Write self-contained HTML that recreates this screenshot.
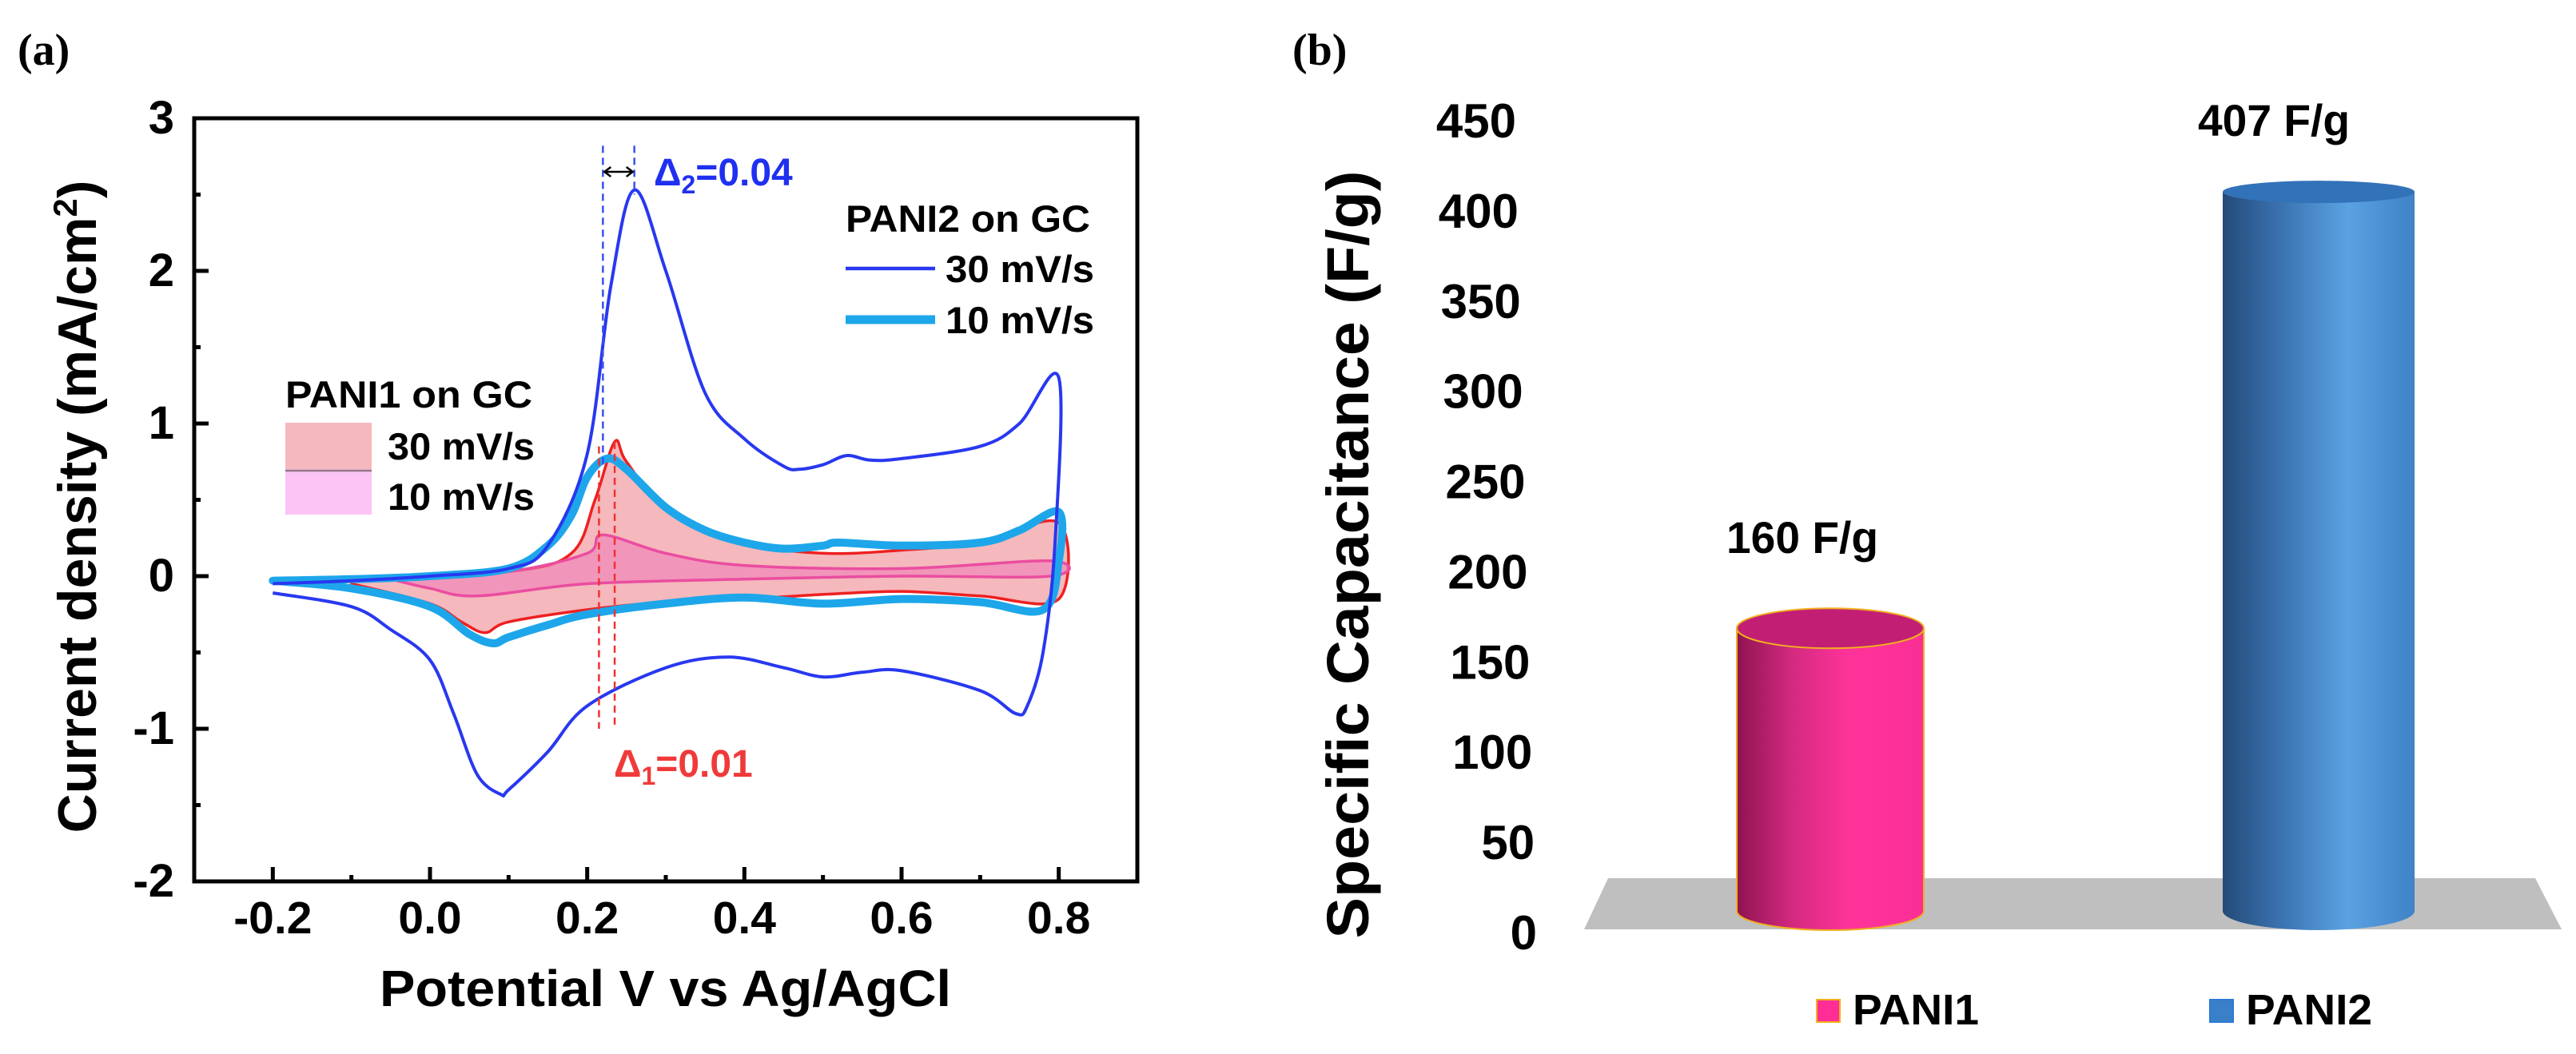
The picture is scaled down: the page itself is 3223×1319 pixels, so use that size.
<!DOCTYPE html>
<html><head><meta charset="utf-8"><style>
html,body{margin:0;padding:0;background:#fff;overflow:hidden}
svg{display:block;font-family:"Liberation Sans",Arial,sans-serif}
</style></head><body>
<svg id="fig" width="3223" height="1319" viewBox="0 0 3223 1319" xmlns="http://www.w3.org/2000/svg">
<defs>
<linearGradient id="gPink" x1="0" x2="1" y1="0" y2="0"><stop offset="0" stop-color="#8e1450"/><stop offset="0.3" stop-color="#d42a80"/><stop offset="0.6" stop-color="#ff3399"/><stop offset="1" stop-color="#fa2f95"/></linearGradient>
<linearGradient id="gBlue" x1="0" x2="1" y1="0" y2="0"><stop offset="0" stop-color="#244a78"/><stop offset="0.3" stop-color="#3a72b0"/><stop offset="0.65" stop-color="#5ba2e2"/><stop offset="1" stop-color="#3f82c6"/></linearGradient>
</defs>
<text x="22" y="81" font-family="Liberation Serif,serif" font-weight="bold" font-size="56">(a)</text>
<text x="1617" y="81" font-family="Liberation Serif,serif" font-weight="bold" font-size="56">(b)</text>
<g id="cv"></g>
<g id="bar"></g>
</svg>
<script>
// ---------- Panel (a) data ----------
const xTicks = [-0.2, 0.0, 0.2, 0.4, 0.6, 0.8];
const xTickLabels = ["-0.2", "0.0", "0.2", "0.4", "0.6", "0.8"];
const yTicks = [-2, -1, 0, 1, 2, 3];
const yTickLabels = ["-2", "-1", "0", "1", "2", "3"];
const pani2_30_x = [-0.2,-0.1,0,0.1,0.15,0.2,0.23,0.26,0.3,0.35,0.4,0.45,0.47,0.5,0.53,0.56,0.6,0.7,0.75,0.8,0.795,0.78,0.76,0.745,0.7,0.6,0.55,0.5,0.45,0.38,0.3,0.2,0.15,0.1,0.09,0.06,0.03,0,-0.05,-0.1,-0.2];
const pani2_30_y = [-0.05,-0.03,0,0.05,0.2,0.8,1.9,2.53,2.0,1.2,0.9,0.72,0.7,0.73,0.79,0.76,0.77,0.85,1.0,1.3,0.2,-0.5,-0.85,-0.9,-0.75,-0.62,-0.63,-0.66,-0.6,-0.53,-0.6,-0.85,-1.15,-1.4,-1.43,-1.3,-0.9,-0.55,-0.35,-0.2,-0.11];
const pani2_10_x = [-0.2,-0.1,0,0.1,0.15,0.18,0.2,0.225,0.25,0.3,0.35,0.4,0.45,0.5,0.52,0.6,0.7,0.75,0.8,0.8,0.78,0.7,0.6,0.5,0.4,0.3,0.2,0.15,0.1,0.08,0.05,0,-0.1,-0.2];
const pani2_10_y = [-0.03,-0.02,0,0.05,0.2,0.4,0.65,0.77,0.7,0.45,0.3,0.22,0.18,0.2,0.22,0.2,0.22,0.3,0.42,0.1,-0.22,-0.17,-0.15,-0.18,-0.14,-0.18,-0.25,-0.32,-0.4,-0.44,-0.38,-0.2,-0.08,-0.03];
const pani1_30_x = [-0.1,0.1,0.18,0.21,0.235,0.25,0.3,0.4,0.5,0.6,0.7,0.8,0.8,0.7,0.6,0.5,0.4,0.3,0.2,0.1,0.07,0.04,0,-0.1];
const pani1_30_y = [-0.02,0.03,0.15,0.5,0.88,0.75,0.45,0.22,0.15,0.17,0.22,0.35,-0.15,-0.13,-0.1,-0.12,-0.15,-0.17,-0.22,-0.3,-0.37,-0.3,-0.18,-0.05];
const pani1_10_x = [-0.05,0.1,0.2,0.22,0.3,0.4,0.6,0.79,0.79,0.6,0.4,0.2,0.06,0,-0.05];
const pani1_10_y = [-0.02,0.03,0.15,0.27,0.15,0.07,0.05,0.1,0,0,-0.02,-0.05,-0.13,-0.08,-0.02];
// ---------- Panel (b) data ----------
const barCategories = ["PANI1", "PANI2"];
const barValues = [160, 407];
const barLabels = ["160 F/g", "407 F/g"];
const bTicks = [0,50,100,150,200,250,300,350,400,450];

const NS = "http://www.w3.org/2000/svg";
function mk(parent, tag, attrs, text){const e=document.createElementNS(NS,tag);for(const k in attrs)e.setAttribute(k,attrs[k]);if(text!==undefined)e.textContent=text;parent.appendChild(e);return e;}

const AX0=243, AX1=1423, AY0=148, AY1=1103;
const sx = v => AX0 + (v - (-0.3)) / 1.2 * (AX1 - AX0);
const sy = v => AY0 + (3 - v) / 5 * (AY1 - AY0);
function smoothPath(xs, ys, closed){
  const p = xs.map((x,i)=>[sx(x), sy(ys[i])]);
  let d = "M"+p[0][0].toFixed(1)+","+p[0][1].toFixed(1);
  const n=p.length;
  for(let i=0;i<n-1;i++){
    const p0=p[Math.max(0,i-1)],p1=p[i],p2=p[i+1],p3=p[Math.min(n-1,i+2)];
    const c1=[p1[0]+(p2[0]-p0[0])/6,p1[1]+(p2[1]-p0[1])/6];
    const c2=[p2[0]-(p3[0]-p1[0])/6,p2[1]-(p3[1]-p1[1])/6];
    d+=" C"+c1[0].toFixed(1)+","+c1[1].toFixed(1)+" "+c2[0].toFixed(1)+","+c2[1].toFixed(1)+" "+p2[0].toFixed(1)+","+p2[1].toFixed(1);
  }
  if(closed) d+=" Z";
  return d;
}
const cv = document.getElementById("cv");
const s1 = mk(cv,"path",{d:smoothPath(pani1_30_x,pani1_30_y,true),fill:"#f5b8bc",stroke:"#ee2020","stroke-width":3.5});


const s2 = mk(cv,"path",{d:smoothPath(pani1_10_x,pani1_10_y,true),fill:"#ee79b8","fill-opacity":0.55,stroke:"#ea4da0","stroke-width":3.5});


const s3 = mk(cv,"path",{d:smoothPath(pani2_10_x,pani2_10_y,true),fill:"none",stroke:"#1ea6ea","stroke-width":10,"stroke-linejoin":"round"});


const s4 = mk(cv,"path",{d:smoothPath(pani2_30_x,pani2_30_y,false),fill:"none",stroke:"#2838f0","stroke-width":4,"stroke-linejoin":"round"});


[[0.22,2.82,0.7,"#3a50f0"],[0.26,2.82,2.5,"#3a50f0"],[0.215,0.85,-1.0,"#f03030"],[0.235,0.88,-1.0,"#f03030"]].forEach(g=>{
  const l=mk(cv,"line",{x1:sx(g[0]),x2:sx(g[0]),y1:sy(g[1]),y2:sy(g[2]),stroke:g[3],"stroke-width":2.5,"stroke-dasharray":"9,6"});
  
  
});
const ay=215;
const arr=mk(cv,"path",{d:`M${sx(0.222)},${ay} L${sx(0.258)},${ay} M${sx(0.222)+8},${ay-6} L${sx(0.222)},${ay} L${sx(0.222)+8},${ay+6} M${sx(0.258)-8},${ay-6} L${sx(0.258)},${ay} L${sx(0.258)-8},${ay+6}`,stroke:"#000","stroke-width":2.5,fill:"none"});


const d2=mk(cv,"text",{x:818,y:232,fill:"#2030f0","font-size":48,"font-weight":"bold"});


d2.innerHTML='Δ<tspan font-size="32" dy="10">2</tspan><tspan dy="-10">=0.04</tspan>';
const d1=mk(cv,"text",{x:768,y:972,fill:"#f03a3a","font-size":48,"font-weight":"bold"});


d1.innerHTML='Δ<tspan font-size="32" dy="10">1</tspan><tspan dy="-10">=0.01</tspan>';
const fr=mk(cv,"rect",{x:AX0,y:AY0,width:AX1-AX0,height:AY1-AY0,fill:"none",stroke:"#000","stroke-width":5});


for(let v=-0.2;v<=0.801;v+=0.1){
  const major=Math.abs(Math.round(v*10)%2)===0;
  const t=mk(cv,"line",{x1:sx(v),x2:sx(v),y1:AY1,y2:AY1-(major?18:8),stroke:"#000","stroke-width":5});
  
  
}
for(let v=-2;v<=3.001;v+=0.5){
  const major=Math.abs(v-Math.round(v))<0.01;
  const t=mk(cv,"line",{x1:AX0,x2:AX0+(major?18:8),y1:sy(v),y2:sy(v),stroke:"#000","stroke-width":5});
  
  
}
xTicks.forEach((v,i)=>{
  const t=mk(cv,"text",{x:sx(v),y:1168,"text-anchor":"middle","font-size":57,"font-weight":"bold"},xTickLabels[i]);
  
  
});
yTicks.forEach((v,i)=>{
  const t=mk(cv,"text",{x:218,y:sy(v)+19,"text-anchor":"end","font-size":58,"font-weight":"bold"},yTickLabels[i]);
  
  
});
const xt=mk(cv,"text",{x:475,y:1259,"font-size":64,"font-weight":"bold",textLength:715,lengthAdjust:"spacingAndGlyphs"},"Potential V vs Ag/AgCl");


const yt=mk(cv,"text",{x:0,y:0,"text-anchor":"middle","font-size":68,"font-weight":"bold",transform:"translate(120,634) rotate(-90)"});


yt.innerHTML='Current density (mA/cm<tspan font-size="42" dy="-24">2</tspan><tspan dy="24">)</tspan>';
const lg2=mk(cv,"text",{x:1058,y:290,"font-size":47,"font-weight":"bold",textLength:306,lengthAdjust:"spacingAndGlyphs"},"PANI2 on GC");


const l1=mk(cv,"line",{x1:1058,x2:1170,y1:336,y2:336,stroke:"#2838f0","stroke-width":4.5});


const l2=mk(cv,"line",{x1:1058,x2:1170,y1:400,y2:400,stroke:"#1ea6ea","stroke-width":11});


const lt1=mk(cv,"text",{x:1183,y:353,"font-size":47,"font-weight":"bold",textLength:186,lengthAdjust:"spacingAndGlyphs"},"30 mV/s");


const lt2=mk(cv,"text",{x:1183,y:417,"font-size":47,"font-weight":"bold",textLength:186,lengthAdjust:"spacingAndGlyphs"},"10 mV/s");


const lg1=mk(cv,"text",{x:357,y:510,"font-size":47,"font-weight":"bold",textLength:309,lengthAdjust:"spacingAndGlyphs"},"PANI1 on GC");


const b1=mk(cv,"rect",{x:357,y:529,width:108,height:58,fill:"#f5b8bc"});


const b2=mk(cv,"rect",{x:357,y:591,width:108,height:53,fill:"#fbc4f4"});


const bl=mk(cv,"line",{x1:357,x2:465,y1:589,y2:589,stroke:"#a07090","stroke-width":3});


const lt3=mk(cv,"text",{x:485,y:575,"font-size":47,"font-weight":"bold",textLength:184,lengthAdjust:"spacingAndGlyphs"},"30 mV/s");


const lt4=mk(cv,"text",{x:485,y:638,"font-size":47,"font-weight":"bold",textLength:184,lengthAdjust:"spacingAndGlyphs"},"10 mV/s");



// ---------- Panel (b) ----------
const bar=document.getElementById("bar");
const tickY = v => 1166 - v/450*(1166-150);
const baseY=1140, K=2.211;
const barY = v => baseY - v*K;
const floor=mk(bar,"polygon",{points:"2012,1099 3172,1099 3205,1163 1982,1163",fill:"#bfbfbf"});


bTicks.forEach(v=>{
  const rx=1897+(450-v)/450*26;
  const t=mk(bar,"text",{x:rx,y:tickY(v)+22,"text-anchor":"end","font-size":60,"font-weight":"bold"},String(v));
  
  
});
const byt=mk(bar,"text",{x:0,y:0,"text-anchor":"middle","font-size":74,"font-weight":"bold",textLength:961,lengthAdjust:"spacingAndGlyphs",transform:"translate(1712,694) rotate(-90)"},"Specific Capacitance (F/g)");


const barX=[[2173,2407],[2781,3021]];
const fills=["url(#gPink)","url(#gBlue)"], tops=["#c21f74","#3272b8"], edges=["#f0b020","none"];
const ryTop=[25,14];
const labX=[2160,2750], labOff=[94,70];
barValues.forEach((v,i)=>{
  const [x0,x1]=barX[i], cx=(x0+x1)/2, rx=(x1-x0)/2, ry=24, ty=barY(v);
  const body=mk(bar,"path",{d:`M${x0},${ty} L${x0},${baseY} A${rx},${ry} 0 0 0 ${x1},${baseY} L${x1},${ty} Z`,fill:fills[i],stroke:edges[i],"stroke-width":2});
  
  
  const top=mk(bar,"ellipse",{cx:cx,cy:ty,rx:rx,ry:ryTop[i],fill:tops[i],stroke:edges[i],"stroke-width":2});
  
  
  const lab=mk(bar,"text",{x:labX[i],y:ty-labOff[i],"font-size":56,"font-weight":"bold",textLength:190,lengthAdjust:"spacingAndGlyphs"},barLabels[i]);
  
  
});
const legX=[2273,2765], legCol=["#ff2d96","#3a80c8"];
barCategories.forEach((c,i)=>{
  const sq=mk(bar,"rect",{x:legX[i],y:1251,width:29,height:28,fill:legCol[i],stroke:i?"#2a7ad8":"#f0b020","stroke-width":2});
  
  
  const t=mk(bar,"text",{x:legX[i]+45,y:1282,"font-size":54,"font-weight":"bold",textLength:158,lengthAdjust:"spacingAndGlyphs"},c);
  
  
});
</script>
</body></html>
